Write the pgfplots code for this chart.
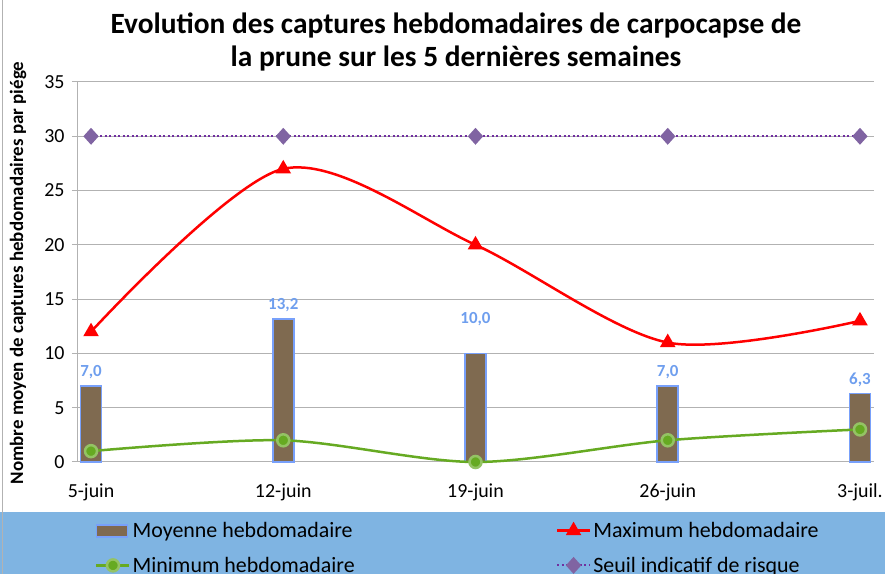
\documentclass[border=0pt]{standalone}
\usepackage{fontspec}
\setmainfont{Carlito}
\usepackage{pgfplots}
\usepackage{pgfplotstable}
\pgfplotsset{compat=1.18}
\pgfplotsset{
  barlegend/.style={legend image code/.code={\draw[##1] (0bp,-6bp) rectangle (31bp,6bp);}},
  linelegend/.style={legend image code/.code={\draw[mark repeat=2, mark phase=2, ##1] plot coordinates {(0bp,0bp) (16.5bp,0bp) (33bp,0bp)};}},
}
\definecolor{barfill}{RGB}{127,106,80}
\definecolor{bardraw}{RGB}{120,160,250}
\definecolor{lblblue}{RGB}{110,158,238}
\definecolor{mygreen}{RGB}{102,170,34}
\definecolor{mypurple}{RGB}{112,48,160}
\definecolor{diam}{RGB}{128,100,162}
\definecolor{legblue}{RGB}{127,180,226}
\definecolor{gridgray}{RGB}{178,178,178}

\pgfplotstableread{
x y dy
0 7.0 3
1 13.2 3
2 10.0 24
3 7.0 3
4 6.3 3
}\moyenne

\begin{document}
\begin{tikzpicture}
\path[use as bounding box] (0bp,0bp) rectangle (885bp,574bp);
\fill[legblue] (0bp,0bp) rectangle (885bp,62bp);
\draw[gridgray, line width=1bp] (2bp,0bp) -- (2bp,574bp);
\node[font=\bfseries\fontsize{29.5}{33}\selectfont, anchor=base] at (456bp,540bp) {Evolution des captures hebdomadaires de carpocapse de};
\node[font=\bfseries\fontsize{29.5}{33}\selectfont, anchor=base] at (456bp,507bp) {la prune sur les 5 dernières semaines};
\node[font=\bfseries\fontsize{19}{22}\selectfont, rotate=90] at (18bp,301bp) {Nombre moyen de captures hebdomadaires par piége};
\begin{axis}[
  at={(77bp,112bp)}, anchor=south west,
  scale only axis, width=797bp, height=380bp,
  xmin=-0.073, xmax=4.073, ymin=0, ymax=35,
  ytick={0,5,...,35},
  xtick={0,1,2,3,4},
  xticklabels={5-juin,12-juin,19-juin,26-juin,3-juil.},
  ymajorgrids, grid style={gridgray, line width=1bp},
  axis x line=bottom, axis y line=left,
  axis line style={-, gridgray, line width=1bp},
  tick align=outside, major tick length=5bp,
  ytick style={gridgray, line width=1bp},
  xtick style={draw=none},
  ticklabel style={font=\fontsize{20}{24}\selectfont},
  xticklabel style={yshift=-13bp},
  yticklabel style={xshift=-4bp},
  /pgf/number format/assume math mode=true,
  clip=false,
  legend columns=2,
  legend style={at={(0.0226,-0.153)}, anchor=north west, fill=none, draw=none,
    inner sep=0pt, font=\fontsize{22}{26}\selectfont, row sep=14bp,
    /tikz/every even column/.append style={column sep=199bp}},
  legend cell align=left,
]
\addplot[ybar, bar width=21bp, fill=barfill, draw=bardraw, line width=1.8bp,
  visualization depends on={\thisrow{dy} \as \dy},
  nodes near coords,
  nodes near coords style={font=\bfseries\fontsize{17}{20}\selectfont, text=lblblue, anchor=south, yshift=\dy},
  barlegend,
  /pgf/number format/.cd, fixed, fixed zerofill, precision=1, use comma,
  ] table[x=x, y=y] {\moyenne};
\addlegendentry{Moyenne hebdomadaire}
\addplot[red, line width=2.5bp, smooth, mark=triangle*, mark size=6.5bp, mark options={solid, fill=red}, linelegend]
  coordinates {(0,12) (1,27) (2,20) (3,11) (4,13)};
\addlegendentry{Maximum hebdomadaire}
\addplot[mygreen, line width=2.5bp, smooth, mark=*, mark size=6bp, mark options={solid, fill=mygreen, draw=mygreen!70!white}, linelegend]
  coordinates {(0,1) (1,2) (2,0) (3,2) (4,3)};
\addlegendentry{Minimum hebdomadaire}
\addplot[mypurple, line width=2bp, dash pattern=on 2bp off 2.5bp, mark=diamond*, mark size=7bp, mark options={solid, fill=diam, draw=diam, xscale=1.2}, linelegend]
  coordinates {(0,30) (1,30) (2,30) (3,30) (4,30)};
\addlegendentry{Seuil indicatif de risque}
\end{axis}
\end{tikzpicture}
\end{document}
